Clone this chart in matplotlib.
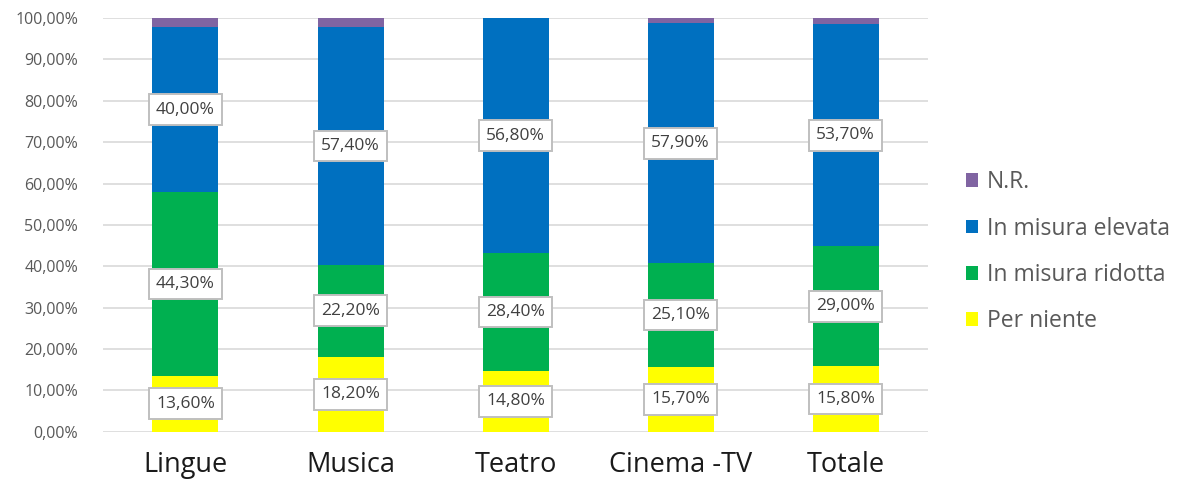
import numpy as np
import matplotlib
matplotlib.use("Agg")
import matplotlib.pyplot as plt
from matplotlib.ticker import FuncFormatter

categories = ["Lingue", "Musica", "Teatro", "Cinema -TV", "Totale"]
per_niente = [13.6, 18.2, 14.8, 15.7, 15.8]
ridotta = [44.3, 22.2, 28.4, 25.1, 29.0]
elevata = [40.0, 57.4, 56.8, 57.9, 53.7]
nr = [2.1, 2.2, 0.0, 1.3, 1.5]

series = [
    ("Per niente", per_niente, "#FFFF00", True),
    ("In misura ridotta", ridotta, "#00B050", True),
    ("In misura elevata", elevata, "#0070C0", True),
    ("N.R.", nr, "#8064A2", False),
]

plt.rcParams['font.family'] = ['Open Sans', 'DejaVu Sans']

fig = plt.figure(figsize=(11.89, 4.88), dpi=100)
ax = fig.add_axes([0.0866, 0.115, 0.694, 0.848])

x = np.arange(len(categories))
bottom = np.zeros(len(categories))
handles = []
for name, vals, col, lab in series:
    vals = np.array(vals)
    b = ax.bar(x, vals, 0.4, bottom=bottom, color=col, zorder=2, label=name)
    handles.append(b)
    if lab:
        for xi, v, bt in zip(x, vals, bottom):
            txt = ("%.2f%%" % v).replace(".", ",")
            ax.text(xi, bt + v / 2, txt, ha="center", va="center", fontsize=12.5,
                    color="#404040", zorder=4,
                    bbox=dict(boxstyle="square,pad=0.42", fc="white", ec="#BFBFBF", lw=1.4))
    bottom = bottom + vals

ax.set_xlim(-0.5, len(categories) - 0.5)
ax.set_ylim(0, 100)
ax.set_yticks(np.arange(0, 101, 10))
ax.yaxis.set_major_formatter(FuncFormatter(lambda v, p: ("%.2f%%" % v).replace(".", ",")))
ax.grid(axis="y", color="#D9D9D9", lw=1.2, zorder=0)
for s in ax.spines.values():
    s.set_visible(False)
ax.tick_params(axis="y", length=0, labelsize=11.5, labelcolor="#595959", pad=18)
ax.tick_params(axis="x", length=0, labelsize=19.5, labelcolor="#1a1a1a", pad=14)
ax.set_xticks(x)
ax.set_xticklabels(categories)

leg = fig.legend(handles[::-1], [s[0] for s in series][::-1], loc="center left",
                 bbox_to_anchor=(0.795, 0.484), frameon=False, fontsize=16.5,
                 labelcolor="#595959", handlelength=0.55, handleheight=0.55,
                 handletextpad=0.35, labelspacing=0.97)

fig.savefig("out.png", dpi=100)
